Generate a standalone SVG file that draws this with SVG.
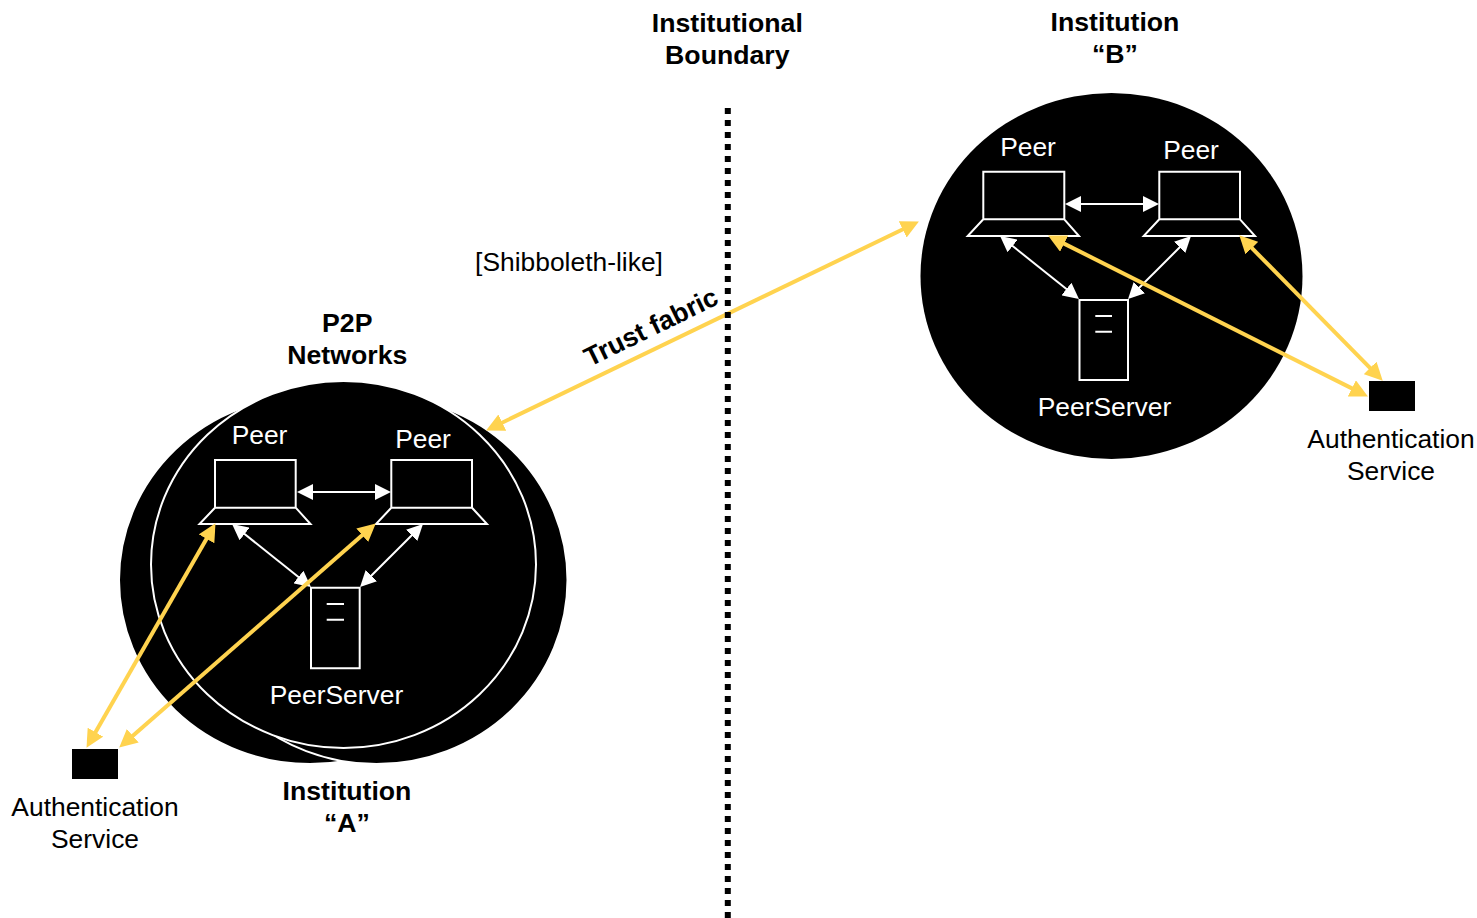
<svg xmlns="http://www.w3.org/2000/svg" width="1477" height="918" viewBox="0 0 1477 918">
<style>
text{font-family:"Liberation Sans",Arial,sans-serif;font-size:26.4px;text-anchor:middle;fill:#000}
.b{font-weight:bold;font-size:26.67px}
.w{fill:#fff}
.blob{fill:#000;stroke:#fff;stroke-width:2}
.sh{fill:none;stroke:#fff;stroke-width:2}
.y{fill:none;stroke:#ffd34f;stroke-width:4;marker-start:url(#ya);marker-end:url(#ya)}
.k{fill:none;stroke:#fff;stroke-width:2;marker-start:url(#wa);marker-end:url(#wa)}
</style>
<defs>
<marker id="ya" markerUnits="userSpaceOnUse" markerWidth="18" markerHeight="18" viewBox="0 0 16 16" refX="8" refY="8" orient="auto-start-reverse"><path d="M0 0L16 8L0 16Z" fill="#ffd34f"/></marker>
<marker id="wa" markerUnits="userSpaceOnUse" markerWidth="16" markerHeight="16" viewBox="0 0 16 16" refX="8" refY="8" orient="auto-start-reverse"><path d="M0 0L16 8L0 16Z" fill="#fff"/></marker>
</defs>
<rect width="1477" height="918" fill="#fff"/>
<g id="institution-a">
<ellipse class="blob" cx="310" cy="580" rx="191" ry="184"/>
<ellipse class="blob" cx="376.5" cy="580" rx="191" ry="184"/>
<ellipse class="blob" cx="343.5" cy="564.5" rx="192.5" ry="183.5"/>
</g>
<g id="institution-b"><ellipse cx="1111.5" cy="276" rx="191" ry="183" fill="#000"/></g>
<g id="peer-a1"><path class="sh" d="M215 460H295.7V507.7H215ZM215 507.7L199.5 524H310.5L295.7 507.7"/><text class="w" x="259.5" y="444">Peer</text></g>
<g id="peer-a2"><path class="sh" d="M391.3 460H472V507.7H391.3ZM391.3 507.7L376 524H487L472 507.7"/><text class="w" x="423" y="448">Peer</text></g>
<g id="server-a"><path class="sh" d="M311 587.7H359.7V668.3H311ZM326.7 604H344M326.7 619.7H344"/><text class="w" x="336.5" y="704">PeerServer</text></g>
<g id="peer-b1"><path class="sh" d="M983.3 171.7H1064.3V219.3H983.3ZM983.3 219.3L967.7 236H1079L1064.3 219.3"/><text class="w" x="1028" y="156">Peer</text></g>
<g id="peer-b2"><path class="sh" d="M1159.3 171.7H1240V219.3H1159.3ZM1159.3 219.3L1143.7 236H1255L1240 219.3"/><text class="w" x="1191" y="159">Peer</text></g>
<g id="server-b"><path class="sh" d="M1079.5 300H1128V380H1079.5ZM1095.3 316H1112M1095.3 331.7H1112"/><text class="w" x="1104.5" y="416">PeerServer</text></g>
<g id="auth-a"><rect x="72" y="749" width="46" height="30" fill="#000"/><text x="95" y="816">Authentication</text><text x="95" y="848">Service</text></g>
<g id="auth-b"><rect x="1369" y="381" width="46" height="30" fill="#000"/><text x="1391" y="448">Authentication</text><text x="1391" y="480">Service</text></g>
<g id="connectors">
<line class="k" x1="305" y1="492" x2="383" y2="492"/>
<line class="k" x1="238.3" y1="529" x2="304.7" y2="582"/>
<line class="k" x1="417.3" y1="529.7" x2="365.7" y2="581.3"/>
<line class="k" x1="1073" y1="204" x2="1151" y2="204"/>
<line class="k" x1="1006.3" y1="241" x2="1072.7" y2="294"/>
<line class="k" x1="1185.3" y1="241.7" x2="1133.7" y2="293.3"/>
<line class="y" x1="211" y1="531" x2="91" y2="740"/>
<line class="y" x1="369" y1="529.3" x2="126" y2="741.7"/>
<line class="y" x1="910.8" y1="225.5" x2="494.2" y2="426.5"/>
<line class="y" x1="1056.1" y1="239.6" x2="1359.9" y2="392.4"/>
<line class="y" x1="1245.6" y1="241.7" x2="1376.4" y2="374.3"/>
</g>
<g id="boundary"><line x1="727.8" y1="108" x2="727.8" y2="918" stroke="#000" stroke-width="6" stroke-dasharray="6 6"/></g>
<g id="labels">
<text class="b" x="727.3" y="32">Institutional</text><text class="b" x="727.3" y="64">Boundary</text>
<text class="b" x="1115" y="31">Institution</text><text class="b" x="1115" y="63">“B”</text>
<text class="b" x="347.3" y="332">P2P</text><text class="b" x="347.3" y="364">Networks</text>
<text class="b" x="347" y="800">Institution</text><text class="b" x="347" y="832">“A”</text>
<text x="569" y="271">[Shibboleth-like]</text>
<text class="b" transform="translate(651 327) rotate(-26)" x="0" y="9">Trust fabric</text>
</g>
</svg>
